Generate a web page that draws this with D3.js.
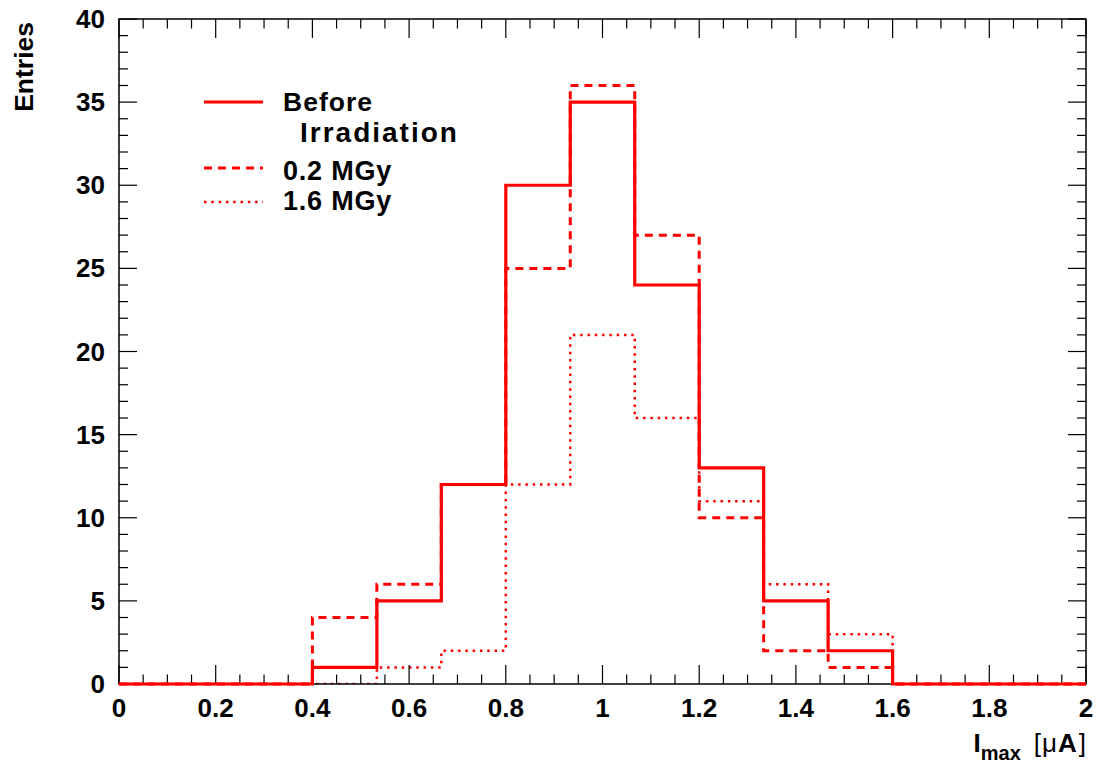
<!DOCTYPE html>
<html><head><meta charset="utf-8">
<script src="https://cdn.jsdelivr.net/npm/d3@7"></script>
<style>body{margin:0;background:#fff}svg{display:block}text{font-family:"Liberation Sans",Arial,sans-serif;font-weight:bold}</style>
</head><body>
<script>
// ---- data ----
const binEdges = d3.range(16).map(i => i * 2 / 15); // 15 bins from 0 to 2
const beforeIrr = [0,0,0,1,5,12,30,35,24,13,5,2,0,0,0];
const mgy02     = [0,0,0,4,6,12,25,36,27,10,2,1,0,0,0];
const mgy16     = [0,0,0,0,1,2,12,21,16,11,6,3,0,0,0];
const xTicks = [0,0.2,0.4,0.6,0.8,1,1.2,1.4,1.6,1.8,2];
const yTicks = [0,5,10,15,20,25,30,35,40];
const seriesNames = ["Before", "0.2 MGy", "1.6 MGy"];

const W = 1099, H = 769;
const L = 119, R = 1086, T = 19, B = 684;
const svg = d3.select("body").append("svg").attr("width", W).attr("height", H);
const x = d3.scaleLinear().domain([0, 2]).range([L, R]);
const y = d3.scaleLinear().domain([0, 40]).range([B, T]);

svg.append("defs").append("clipPath").attr("id", "plot")
  .append("rect").attr("x", L).attr("y", T).attr("width", R - L).attr("height", B - T);

function pts(vals) {
  const p = vals.map((v, i) => [binEdges[i], v]);
  p.push([binEdges[vals.length], vals[vals.length - 1]]);
  return p;
}
const line = d3.line().x(d => x(d[0])).y(d => y(d[1])).curve(d3.curveStepAfter);
const red = "#ff0000";

// dotted first (under frame)
svg.append("path").attr("d", line(pts(mgy16))).attr("fill", "none").attr("stroke", red)
  .attr("clip-path", "url(#plot)")
  .attr("stroke-width", 2.5).attr("stroke-dasharray", "2.5,4.8");

// frame
svg.append("rect").attr("x", L).attr("y", T).attr("width", R - L).attr("height", B - T)
  .attr("fill", "none").attr("stroke", "#000").attr("stroke-width", 1.5);

// ticks
const g = svg.append("g").attr("stroke", "#000").attr("stroke-width", 1.2);
d3.range(0, 41).forEach(i => {
  const v = i * 0.05, len = (i % 4 === 0) ? 19 : 9.5, px = x(v);
  g.append("line").attr("x1", px).attr("x2", px).attr("y1", B).attr("y2", B - len);
  g.append("line").attr("x1", px).attr("x2", px).attr("y1", T).attr("y2", T + len);
});
d3.range(0, 41).forEach(i => {
  const len = (i % 5 === 0) ? 18 : 9, py = y(i);
  g.append("line").attr("x1", L).attr("x2", L + len).attr("y1", py).attr("y2", py);
  g.append("line").attr("x1", R).attr("x2", R - len).attr("y1", py).attr("y2", py);
});

// tick labels
svg.selectAll(".xt").data(xTicks).enter().append("text")
  .attr("x", d => x(d)).attr("y", 717).attr("text-anchor", "middle")
  .attr("font-size", 26).text(d => d);
svg.selectAll(".yt").data(yTicks).enter().append("text")
  .attr("x", 105).attr("y", d => y(d) + 9).attr("text-anchor", "end")
  .attr("font-size", 26).text(d => d);

// histograms
svg.append("path").attr("d", line(pts(mgy02))).attr("fill", "none").attr("stroke", red)
  .attr("stroke-width", 3).attr("stroke-dasharray", "8,6");
svg.append("path").attr("d", line(pts(beforeIrr))).attr("fill", "none").attr("stroke", red)
  .attr("stroke-width", 3.2);

// axis titles
svg.append("text").attr("transform", "translate(33,22) rotate(-90)")
  .attr("text-anchor", "end").attr("font-size", 26.5).text("Entries");
const xl = svg.append("text").attr("x", 1086).attr("y", 752).attr("text-anchor", "end").attr("font-size", 26);
xl.append("tspan").text("I");
xl.append("tspan").attr("font-size", 20).attr("dy", 8).text("max");
xl.append("tspan").attr("dy", -8).attr("font-weight", "normal").attr("dx", 13).text("[");
xl.append("tspan").attr("font-weight", "normal").attr("dx", 1).text("μ");
xl.append("tspan").attr("dx", 1).text("A");
xl.append("tspan").attr("font-weight", "normal").attr("dx", 2).text("]");

// legend
const lg = svg.append("g");
const lx1 = 204, lx2 = 263;
lg.append("line").attr("x1", lx1).attr("x2", lx2).attr("y1", 102).attr("y2", 102).attr("stroke", red).attr("stroke-width", 3.2);
lg.append("line").attr("x1", lx1).attr("x2", lx2).attr("y1", 168).attr("y2", 168).attr("stroke", red).attr("stroke-width", 3).attr("stroke-dasharray", "8,6");
lg.append("line").attr("x1", lx1).attr("x2", lx2).attr("y1", 202).attr("y2", 202).attr("stroke", red).attr("stroke-width", 2.5).attr("stroke-dasharray", "2.5,4.8");
lg.append("text").attr("x", 283).attr("y", 110.5).attr("font-size", 26.5).attr("letter-spacing", 1).text(seriesNames[0]);
lg.append("text").attr("x", 300).attr("y", 142).attr("font-size", 28).attr("letter-spacing", 2).text("Irradiation");
lg.append("text").attr("x", 283).attr("y", 180).attr("font-size", 27).attr("letter-spacing", 0.8).text(seriesNames[1]);
lg.append("text").attr("x", 283).attr("y", 210).attr("font-size", 27).attr("letter-spacing", 0.8).text(seriesNames[2]);
</script>
</body></html>
